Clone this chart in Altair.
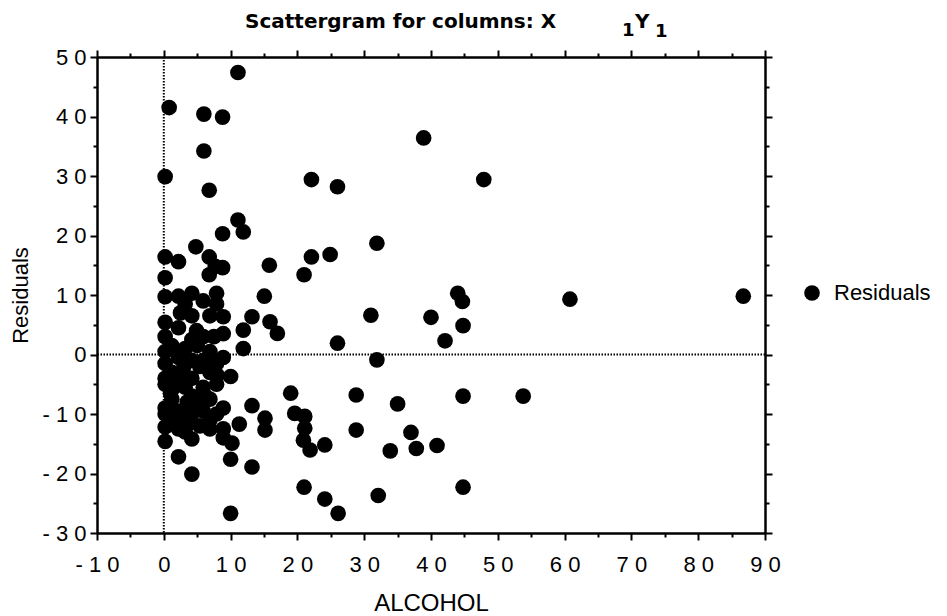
import altair as alt
import pandas as pd

# ---- data (ALCOHOL vs Residuals) ----
alcohol = [
    11.1, 0.8, 6.0, 8.8, 6.0, 0.2, 6.8, 22.1, 26.0, 38.9, 47.9, 11.1, 11.9, 8.8, 4.8,
    31.9, 0.2, 2.2, 6.8, 7.7, 8.8, 6.8, 15.8, 22.1, 24.9, 21.0, 0.2, 15.05, 13.2, 11.9,
    15.9, 17.0, 11.9, 31.0, 26.0, 31.9, 44.0, 44.7, 40.0, 44.8, 42.1, 60.8, 86.75, 44.8,
    53.8, 35.0, 37.0, 33.9, 37.8, 40.9, 44.8, 32.1, 10.0, 19.0, 28.8, 13.2, 15.15, 15.15,
    19.6, 21.1, 21.1, 20.9, 21.9, 24.1, 28.8, 11.3, 10.2, 10.0, 13.2, 2.2, 4.2, 21.0,
    24.1, 26.1, 10.0,
    0.2, 0.2, 0.2, 0.2, 0.2, 0.2, 0.2, 0.2, 0.2, 0.2, 0.2,
    1.2, 1.2, 1.2, 1.2,
    2.2, 2.2, 2.2, 2.2, 2.2, 2.2,
    3.2, 3.2, 3.2, 3.2, 3.2,
    4.2, 4.2, 4.2, 4.2, 4.2, 4.2, 4.2, 4.2,
    4.9, 4.9, 5.4, 5.4,
    5.9, 5.9, 5.9, 5.9, 5.9,
    6.9, 6.9, 6.9, 6.9, 6.9, 6.9,
    7.9, 7.9, 7.9, 7.9, 7.9,
    8.9, 8.9, 8.9, 8.9, 8.9, 8.9,
    1.5, 3.0, 3.5, 2.5, 6.2, 7.5, 1.0, 5.0, 8.0, 3.8,
]
residuals = [
    47.4, 41.5, 40.4, 39.9, 34.2, 29.9, 27.6, 29.4, 28.2, 36.4, 29.4, 22.6, 20.6, 20.3, 18.1,
    18.7, 16.4, 15.6, 16.4, 14.8, 14.6, 13.4, 15.0, 16.4, 16.8, 13.4, 12.9, 9.8, 6.35, 4.1,
    5.5, 3.55, 1.0, 6.6, 1.9, -0.9, 10.3, 8.9, 6.25, 4.85, 2.3, 9.3, 9.8, -7.0,
    -7.0, -8.3, -13.1, -16.2, -15.8, -15.3, -22.3, -23.7, -3.7, -6.5, -6.8, -8.6, -10.7, -12.7,
    -9.9, -10.4, -12.4, -14.4, -16.05, -15.2, -12.7, -11.7, -14.9, -17.6, -18.9, -17.2, -20.1, -22.3,
    -24.3, -26.7, -26.7,
    9.7, 5.4, 3.0, 0.5, -1.5, -4.0, -5.0, -9.0, -10.0, -12.2, -14.6,
    1.5, -3.0, -7.5, -11.0,
    9.8, 4.5, -0.5, -3.5, -9.5, -12.5,
    8.5, 1.0, -5.5, -10.5, -13.0,
    10.3, 6.5, 2.5, -1.0, -4.0, -7.0, -10.0, -14.2,
    4.0, -8.5, -2.0, -12.0,
    9.0, 3.0, -1.0, -5.5, -9.5,
    6.5, 0.5, -3.0, -7.5, -11.0, -12.5,
    10.3, 8.5, -1.5, -5.0, -10.0,
    6.35, 3.5, -0.5, -9.0, -12.5, -14.0,
    -5.5, -2.0, -8.0, 7.0, -7.0, 3.0, -6.5, 1.5, -3.5, -11.5,
]
series_name = ["Residuals"]
x_ticks = list(range(-10, 91, 5))
y_ticks = list(range(-30, 51, 5))
x_ref = [0]
y_ref = [0]
title_main = "Scattergram for columns: X"
title_sub1 = "1"
title_y = "Y"
title_sub2 = "1"

points_df = pd.DataFrame({"ALCOHOL": alcohol, "Residuals": residuals,
                          "series": series_name * len(alcohol)})

FONT = "Liberation Sans"
label_expr = "datum.value % 10 === 0 ? join(split(toString(datum.value), ''), ' ') : ''"
tick_cond = {"condition": {"test": "datum.value % 10 === 0", "value": 7}, "value": 4}

x_scale = alt.Scale(domain=[-10, 90], nice=False, zero=False)
y_scale = alt.Scale(domain=[-30, 50], nice=False, zero=False)


def make_axis(orient, values, labels, **kw):
    return alt.Axis(
        orient=orient, values=values, labels=labels, labelExpr=label_expr,
        tickSize=tick_cond, tickColor="black", tickWidth=2, ticks=True,
        domain=True, domainColor="black", domainWidth=2.5, grid=False,
        labelFont=FONT, labelFontSize=22, labelColor="black",
        labelFlush=False, labelOverlap=False, **kw)


points = alt.Chart(points_df).mark_point(filled=True, opacity=1, size=245).encode(
    x=alt.X("ALCOHOL:Q", scale=x_scale,
            axis=make_axis("bottom", x_ticks, True, title="ALCOHOL", labelPadding=14,
                           titleFont="Liberation Sans Narrow, Liberation Sans",
                           titleFontSize=24, titleFontWeight="normal", titleColor="black",
                           titleY=77, titleBaseline="alphabetic")),
    y=alt.Y("Residuals:Q", scale=y_scale,
            axis=make_axis("left", y_ticks, True, title="Residuals", labelPadding=4,
                           titleFont=FONT, titleFontSize=22, titleFontWeight="normal",
                           titleColor="black", titleX=-77, titleBaseline="middle")),
    color=alt.Color("series:N", scale=alt.Scale(range=["black"]),
                    legend=alt.Legend(orient="none", legendX=704, legendY=225, title=None,
                                      padding=0, symbolType="circle", symbolSize=245,
                                      symbolStrokeWidth=0, labelFont=FONT, labelFontSize=22,
                                      labelColor="black", labelOffset=11)),
)

vrule = alt.Chart(pd.DataFrame({"ALCOHOL": x_ref})).mark_rule(
    color="black", strokeWidth=2, strokeDash=[1.5, 1.5]).encode(
    x=alt.X("ALCOHOL:Q", scale=x_scale, axis=make_axis("top", x_ticks, False, title=None)),
)

hrule = alt.Chart(pd.DataFrame({"Residuals": y_ref})).mark_rule(
    color="black", strokeWidth=2, strokeDash=[1.5, 1.5]).encode(
    y=alt.Y("Residuals:Q", scale=y_scale, axis=make_axis("right", y_ticks, False, title=None)),
)


def text_layer(txt, size, x, y):
    return alt.Chart(pd.DataFrame({"t": [txt]})).mark_text(
        font="DejaVu Sans", fontWeight="bold", fontSize=size, color="black",
        align="left", baseline="alphabetic").encode(
        x=alt.value(x), y=alt.value(y), text="t:N")


t_main = text_layer(title_main, 20, 148, -29)
t_s1 = text_layer(title_sub1, 18, 525, -21)
t_y = text_layer(title_y, 20, 538, -29)
t_s2 = text_layer(title_sub2, 18, 558, -20)

chart = alt.layer(vrule, hrule, points, t_main, t_s1, t_y, t_s2).resolve_axis(
    x="independent", y="independent"
).properties(
    width=668, height=476,
    autosize=alt.AutoSizeParams(type="none"),
    padding={"left": 97, "top": 57, "right": 182, "bottom": 83},
    background="white",
).configure_view(stroke=None)

chart.save("out.html", embed_options={"renderer": "svg", "actions": False})
